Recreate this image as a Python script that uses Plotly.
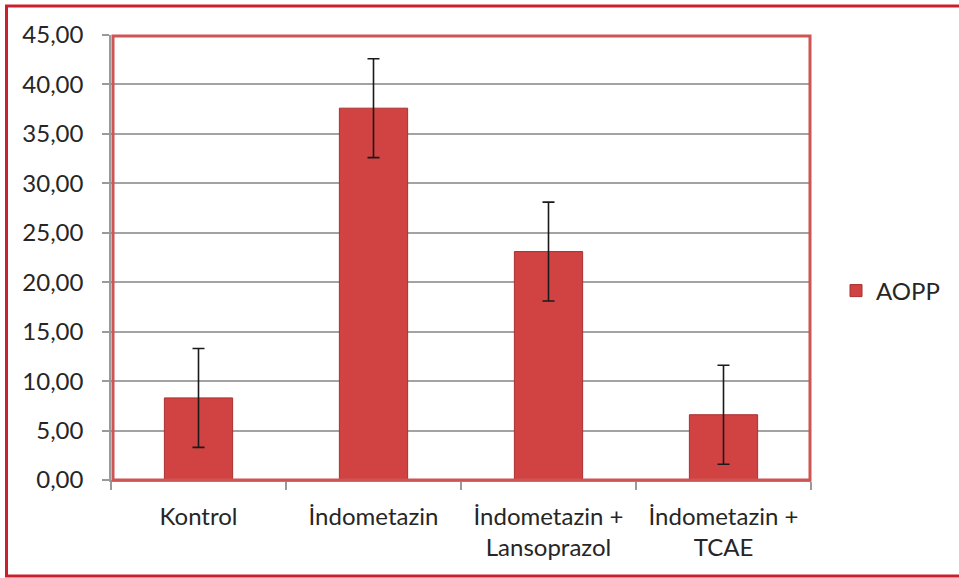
import plotly.graph_objects as go

categories = ["Kontrol", "İndometazin", "İndometazin +<br>Lansoprazol", "İndometazin +<br>TCAE"]
aopp_values = [8.3, 37.6, 23.1, 6.6]
aopp_errors = [5.0, 5.0, 5.0, 5.0]
series_name = "AOPP"
y_ticks = [0, 5, 10, 15, 20, 25, 30, 35, 40, 45]

W, H = 959, 578
L, R, T, B = 111, 148, 35, 98
pw, ph = W - L - R, H - T - B

font = dict(family="Lato, 'Open Sans', sans-serif", size=24, color="#262626")

fig = go.Figure()
fig.add_trace(go.Bar(
    x=categories, y=aopp_values, name=series_name,
    marker=dict(color="#D14242", line=dict(color="#A83030", width=1)),
    width=0.39,
    error_y=dict(type="data", array=aopp_errors, visible=True,
                 color="#1a1a1a", thickness=1.6, width=6),
    showlegend=True,
))

def px2x(p):
    return (p - L) / pw

def px2y(p):
    return (H - B - p) / ph

border = dict(color="#C8202C", width=3)
shapes = [
    # outer chart border: top, left, bottom (no right edge visible)
    dict(type="line", xref="paper", yref="paper",
         x0=px2x(5), x1=px2x(962), y0=px2y(6), y1=px2y(6), line=border, layer="above"),
    dict(type="line", xref="paper", yref="paper",
         x0=px2x(6.5), x1=px2x(6.5), y0=px2y(5), y1=px2y(577), line=border, layer="above"),
    dict(type="line", xref="paper", yref="paper",
         x0=px2x(5), x1=px2x(962), y0=px2y(576), y1=px2y(576), line=border, layer="above"),
    # plot area border
    dict(type="rect", xref="paper", yref="paper",
         x0=px2x(113), x1=px2x(810), y0=px2y(480), y1=px2y(36),
         line=dict(color="#CD5553", width=3), layer="above"),
]

fig.update_layout(
    width=W, height=H,
    margin=dict(l=L, r=R, t=T, b=B, pad=0, autoexpand=False),
    paper_bgcolor="white", plot_bgcolor="white",
    font=font,
    separators=", ",
    bargap=0.61,
    shapes=shapes,
    legend=dict(x=px2x(836), y=px2y(291), xanchor="left", yanchor="middle",
                font=font, bgcolor="rgba(0,0,0,0)", itemwidth=30),
    showlegend=True,
)
fig.update_yaxes(
    range=[0, 45], tickvals=y_ticks, tickformat=".2f",
    showgrid=True, gridcolor="#A3A3A3", gridwidth=1.5,
    showline=True, linecolor="#9A9A9A", linewidth=1.5,
    ticks="outside", ticklen=7, tickcolor="#9A9A9A", tickwidth=1.5,
    ticklabelstandoff=14, zeroline=False,
)
fig.update_xaxes(
    showline=True, linecolor="#9A9A9A", linewidth=1.5,
    ticks="outside", ticklen=8, tickcolor="#9A9A9A", tickwidth=1.5,
    tickson="boundaries", ticklabelstandoff=14, showgrid=False,
)

fig.write_html("out.html", config={"displayModeBar": False},
               post_script="document.body.style.margin='0';document.body.style.overflow='hidden';")
